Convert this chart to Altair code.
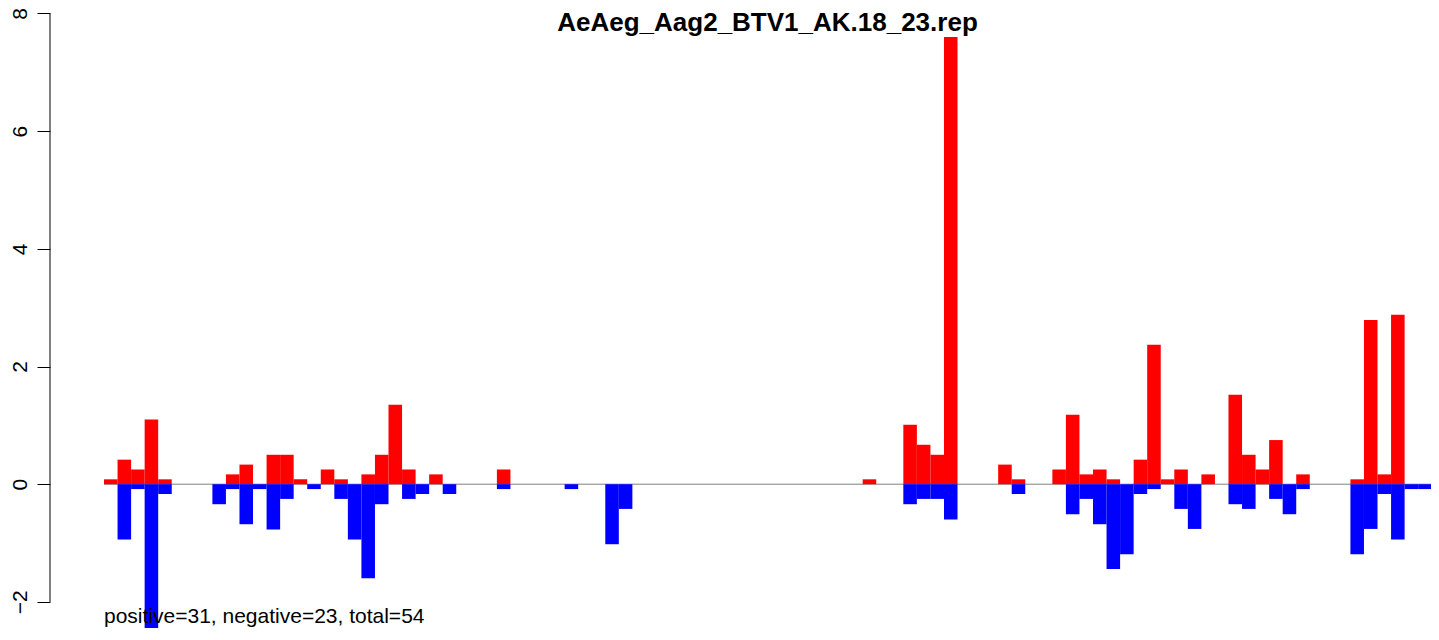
import altair as alt
import pandas as pd

# ---- data (one value per bin, bins 0..97) ----
pos_vals = [
    0.083, 0.417, 0.25, 1.10, 0.083, 0, 0, 0, 0, 0.167,
    0.333, 0, 0.5, 0.5, 0.083, 0, 0.25, 0.083, 0, 0.167,
    0.5, 1.35, 0.25, 0, 0.167, 0, 0, 0, 0, 0.25,
    0, 0, 0, 0, 0, 0, 0, 0, 0, 0,
    0, 0, 0, 0, 0, 0, 0, 0, 0, 0,
    0, 0, 0, 0, 0, 0, 0.083, 0, 0, 1.01,
    0.67, 0.5, 7.6, 0, 0, 0, 0.333, 0.083, 0, 0,
    0.25, 1.18, 0.167, 0.25, 0.083, 0, 0.417, 2.37, 0.083, 0.25,
    0, 0.167, 0, 1.52, 0.5, 0.25, 0.75, 0, 0.167, 0,
    0, 0, 0.083, 2.79, 0.167, 2.88, 0, 0,
]
neg_vals = [
    0, -0.94, -0.083, -2.52, -0.167, 0, 0, 0, -0.34, -0.083,
    -0.68, -0.083, -0.77, -0.25, 0, -0.083, 0, -0.25, -0.94, -1.6,
    -0.34, 0, -0.25, -0.167, 0, -0.167, 0, 0, 0, -0.083,
    0, 0, 0, 0, -0.083, 0, 0, -1.02, -0.42, 0,
    0, 0, 0, 0, 0, 0, 0, 0, 0, 0,
    0, 0, 0, 0, 0, 0, 0, 0, 0, -0.34,
    -0.25, -0.25, -0.6, 0, 0, 0, 0, -0.167, 0, 0,
    0, -0.51, -0.25, -0.68, -1.44, -1.19, -0.167, -0.083, 0, -0.42,
    -0.76, 0, 0, -0.34, -0.42, 0, -0.25, -0.51, -0.083, 0,
    0, 0, -1.19, -0.76, -0.167, -0.94, -0.083, -0.083,
]
y_ticks = [-2, 0, 2, 4, 6, 8]
title_text = "AeAeg_Aag2_BTV1_AK.18_23.rep"
footer_text = "positive=31, negative=23, total=54"

# ---- layout (svg kept inside the 1439x640 window minus the 8px page margin) ----
PAD_LEFT = 42
W, H = 1381, 620
X_DOMAIN = [-3.986, 97.948]
Y_DOMAIN = [-2.4435, 8.0918]
FONT = "Liberation Sans"

pos_df = pd.DataFrame({"i": range(len(pos_vals)), "v": pos_vals})
pos_df = pos_df[pos_df.v != 0].assign(i2=lambda d: d.i + 1, z=0.0)
neg_df = pd.DataFrame({"i": range(len(neg_vals)), "v": neg_vals})
neg_df = neg_df[neg_df.v != 0].assign(i2=lambda d: d.i + 1, z=0.0)

xs = alt.Scale(domain=X_DOMAIN, nice=False, zero=False)
ys = alt.Scale(domain=Y_DOMAIN, nice=False, zero=False)

y_axis = alt.Axis(
    values=y_ticks,
    title=None,
    domain=False,
    grid=False,
    tickSize=13,
    tickColor="black",
    tickWidth=1,
    labelAngle=270,
    labelAlign="center",
    labelBaseline="alphabetic",
    labelPadding=11,
    labelFont=FONT,
    labelFontSize=21,
    labelColor="black",
    format="d",
)

baseline = alt.Chart(pd.DataFrame({"a": [0.0], "b": [X_DOMAIN[1]], "y": [0.0]})).mark_rule(
    color="#808080", strokeWidth=1
).encode(
    x=alt.X("a:Q", scale=xs, axis=None),
    x2="b:Q",
    y=alt.Y("y:Q", scale=ys, axis=y_axis),
)

red = alt.Chart(pos_df).mark_rect(color="#FF0000", strokeWidth=0).encode(
    x=alt.X("i:Q", scale=xs, axis=None),
    x2="i2:Q",
    y=alt.Y("z:Q", scale=ys, axis=y_axis),
    y2="v:Q",
)

blue = alt.Chart(neg_df).mark_rect(color="#0000FF", strokeWidth=0).encode(
    x=alt.X("i:Q", scale=xs, axis=None),
    x2="i2:Q",
    y=alt.Y("z:Q", scale=ys, axis=y_axis),
    y2="v:Q",
)

axis_line = alt.Chart(pd.DataFrame({"x": [X_DOMAIN[0]], "lo": [y_ticks[0]], "hi": [y_ticks[-1]]})).mark_rule(
    color="black", strokeWidth=1
).encode(
    x=alt.X("x:Q", scale=xs, axis=None),
    y=alt.Y("lo:Q", scale=ys, axis=y_axis),
    y2="hi:Q",
)

title = alt.Chart(pd.DataFrame({"t": [title_text]})).mark_text(
    font=FONT, fontSize=26, fontWeight="bold", align="center", baseline="alphabetic", color="black"
).encode(text="t:N", x=alt.value(717.5), y=alt.value(23))

footer = alt.Chart(pd.DataFrame({"t": [footer_text]})).mark_text(
    font=FONT, fontSize=21, align="left", baseline="alphabetic", color="black"
).encode(text="t:N", x=alt.value(54), y=alt.value(615))

chart = alt.layer(baseline, red, blue, axis_line, title, footer).properties(
    width=W,
    height=H,
    autosize=alt.AutoSizeParams(type="none"),
    padding={"left": PAD_LEFT, "top": 0, "right": 0, "bottom": 0},
).configure_view(strokeWidth=0)

chart.save("out.html", embed_options={"renderer": "svg", "actions": False})
